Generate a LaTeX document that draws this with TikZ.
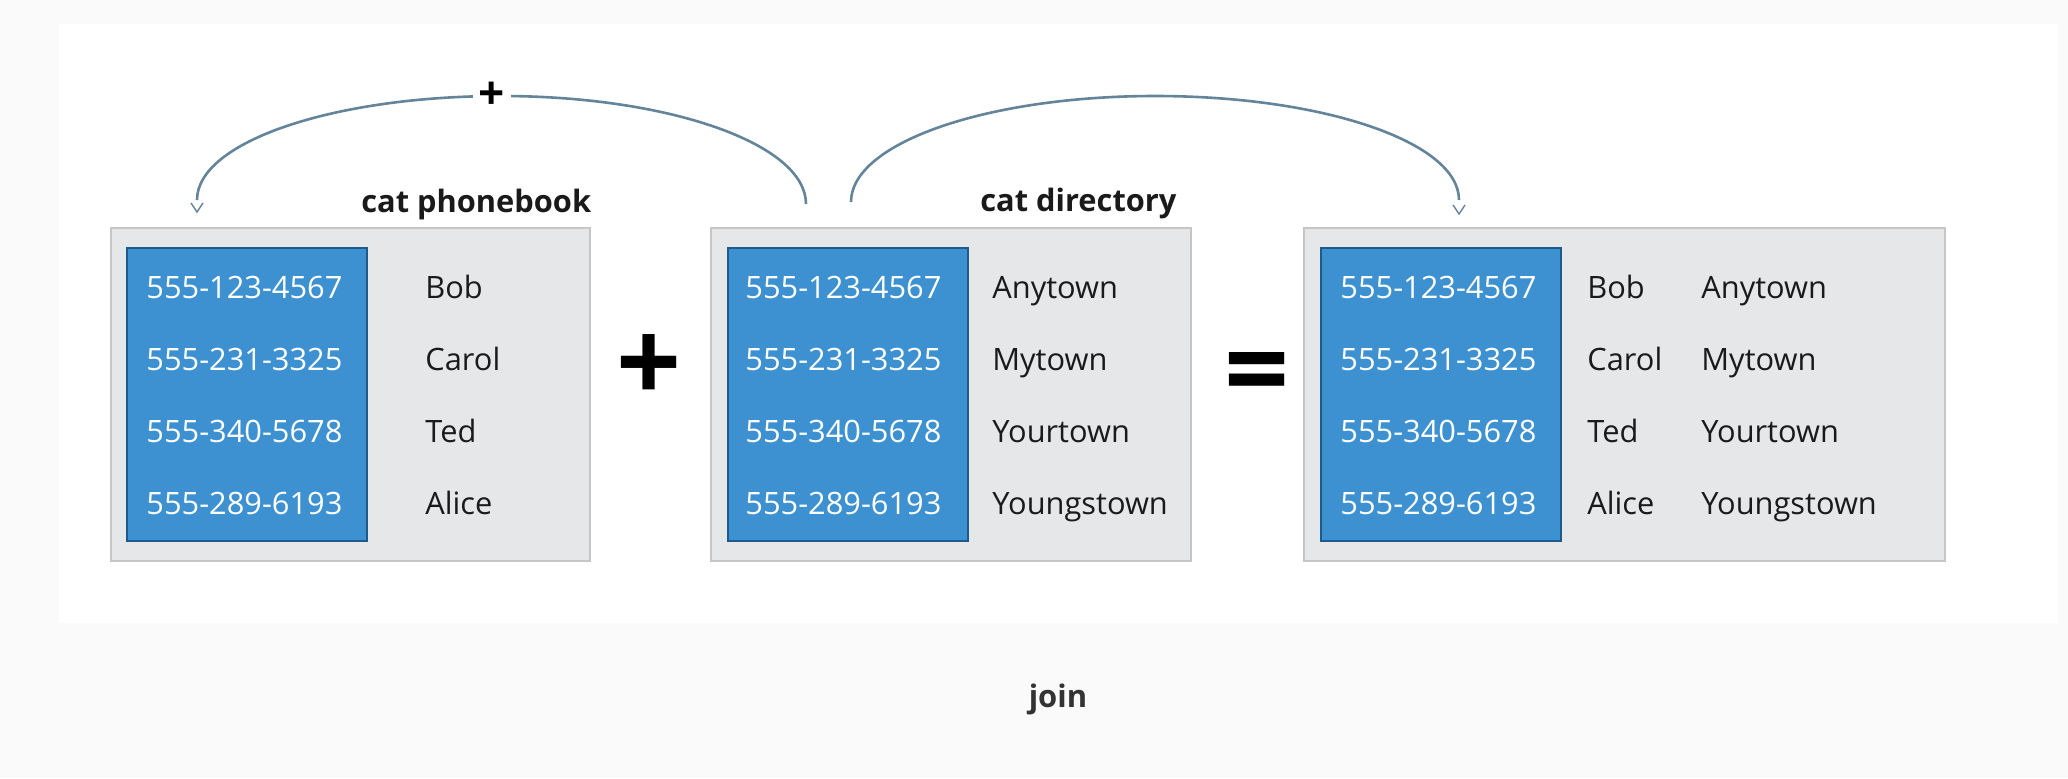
\documentclass[tikz,border=0pt]{standalone}
\usepackage{fontspec}
\setmainfont{Open Sans}
\definecolor{bg}{HTML}{FAFAFA}
\definecolor{boxfill}{HTML}{E6E7E8}
\definecolor{boxline}{HTML}{C6C6C6}
\definecolor{bluefill}{HTML}{3D91D0}
\definecolor{blueline}{HTML}{1E5A8C}
\definecolor{arccol}{HTML}{64849A}
\definecolor{txt}{HTML}{1A1A1A}
\definecolor{captxt}{HTML}{333333}
\begin{document}
\begin{tikzpicture}[x=0.5pt,y=-0.5pt,
 tbl/.style={draw=boxline, fill=boxfill, line width=1pt, minimum height=166.5pt, inner sep=0pt},
 col/.style={draw=blueline, fill=bluefill, line width=1pt, minimum width=120pt, minimum height=146.5pt, inner sep=0pt},
 phone/.style={anchor=base west, inner sep=0pt, text=white, font=\fontsize{15.4}{18}\selectfont},
 cell/.style={anchor=base west, inner sep=0pt, text=txt, font=\fontsize{15.4}{18}\selectfont},
 title/.style={anchor=base west, inner sep=0pt, text=txt, font=\bfseries\fontsize{15.4}{18}\selectfont},
 op/.style={inner sep=0pt, text=black, font=\bfseries\fontsize{57}{60}\selectfont},
 conn/.style={draw=arccol, line width=1.3pt},
 tipv/.style={draw=arccol, line width=0.7pt}]
\fill[bg] (0,0) rectangle (2068,778);
\fill[white] (59,24) rectangle (2058,623);
\useasboundingbox (0,0) rectangle (2068,778);
% tables
\node[tbl, minimum width=239.5pt] (t1) at (350.5,394.5) {};
\node[tbl, minimum width=240pt] (t2) at (951,394.5) {};
\node[tbl, minimum width=320.5pt] (t3) at (1624.5,394.5) {};
\node[col] (c1) at (247,394.5) {};
\node[col] (c2) at (847.5,394.5) {};
\node[col] (c3) at (1441,394.5) {};
% rows
\foreach \y/\p/\n/\t [count=\i] in {298/555-123-4567/Bob/Anytown, 370/555-231-3325/Carol/Mytown, 442/555-340-5678/Ted/Yourtown, 514/555-289-6193/Alice/Youngstown}{
  \node[phone] (pa\i) at (146,\y) {\p};
  \node[cell] (na\i) at (425,\y) {\n};
  \node[phone] (pb\i) at (745,\y) {\p};
  \node[cell] (tb\i) at (992,\y) {\t};
  \node[phone] (pc\i) at (1340,\y) {\p};
  \node[cell] (nc\i) at (1587,\y) {\n};
  \node[cell] (tc\i) at (1701,\y) {\t};
}
% titles
\node[title] (ti1) at (361,212) {cat phonebook};
\node[title] (ti2) at (980,211) {cat directory};
% operators
\node[op] (plus) at (649,369) {+};
\node[op] (eq) at (1257,381) {=};
% arcs
\coordinate (a1s) at (806,204);
\coordinate (a1top) at (501,96);
\coordinate (a1e) at (197,200);
\coordinate (h1) at (197,212);
\draw[conn] (a1s) .. controls +(0,-60) and +(168,0) .. (a1top) .. controls +(-168,0) and +(0,-58) .. (a1e);
\draw[tipv] (h1) ++(-6,-9) -- (h1) -- ++(6,-9);
\node[inner sep=0pt, minimum width=19pt, minimum height=14pt, fill=white, text=black, font=\bfseries\fontsize{23}{24}\selectfont] (plab) at (492,96) {+};
\coordinate (a2s) at (851,202);
\coordinate (a2top) at (1155,96);
\coordinate (a2e) at (1459,200);
\coordinate (h2) at (1459,214);
\draw[conn] (a2s) .. controls +(0,-59) and +(-168,0) .. (a2top) .. controls +(168,0) and +(0,-58) .. (a2e);
\draw[tipv] (h2) ++(-6,-9) -- (h2) -- ++(6,-9);
% caption
\node[inner sep=0pt, text=captxt, font=\bfseries\fontsize{15.5}{18}\selectfont] (cap) at (1058,699) {join};
\end{tikzpicture}
\end{document}
